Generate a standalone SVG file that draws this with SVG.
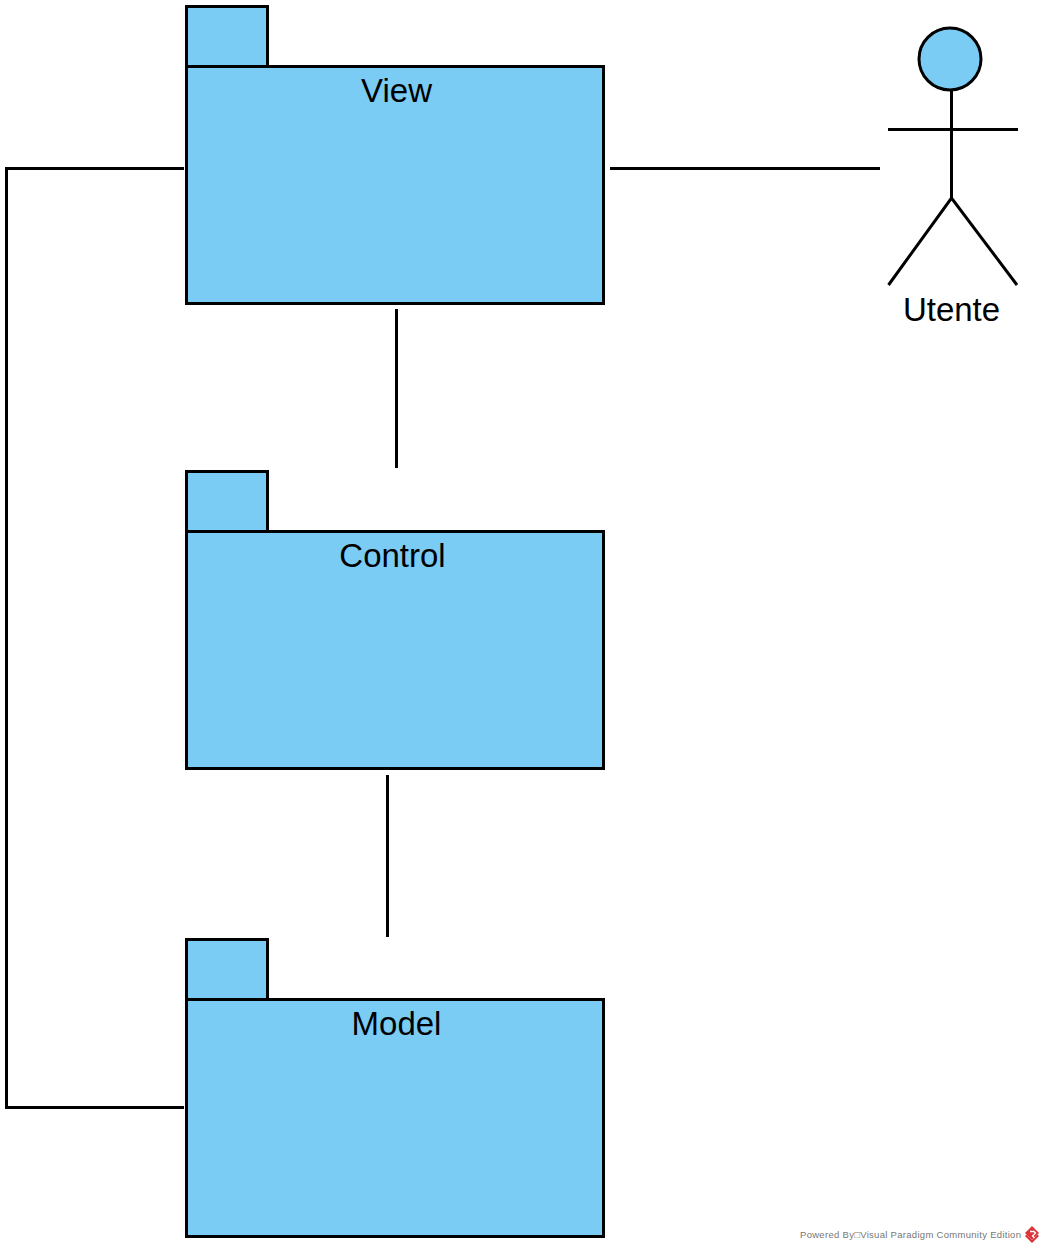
<svg xmlns="http://www.w3.org/2000/svg" width="1044" height="1251" viewBox="0 0 1044 1251">
<style>
.s{fill:#7accf5;stroke:#000;stroke-width:3;stroke-linejoin:miter}
.l{fill:none;stroke:#000;stroke-width:3}
.t{font-family:"Liberation Sans",Arial,sans-serif;font-size:33px;fill:#000;text-anchor:middle}
</style>
<rect width="1044" height="1251" fill="#fff"/>
<g id="connectors">
<path class="l" d="M184 168.500H6.500V1107.500H184"/>
<path class="l" d="M610 168.500H880"/>
<path class="l" d="M396.500 309V468"/>
<path class="l" d="M387.500 775V937"/>
</g>
<g id="view"><rect class="s" x="186.500" y="6.500" width="81" height="60"/><rect class="s" x="186.500" y="66.500" width="417" height="237"/><text class="t" x="396.500" y="102">View</text></g>
<g id="control"><rect class="s" x="186.500" y="471.500" width="81" height="60"/><rect class="s" x="186.500" y="531.500" width="417" height="237"/><text class="t" x="392.500" y="567">Control</text></g>
<g id="model"><rect class="s" x="186.500" y="939.500" width="81" height="60"/><rect class="s" x="186.500" y="999.500" width="417" height="237"/><text class="t" x="396.500" y="1035">Model</text></g>
<g id="utente">
<circle class="s" cx="950" cy="59" r="31"/>
<path class="l" d="M951.500 90V198M888 129.500H1018M888.500 285L951.500 198L1017 285"/>
<text class="t" x="951.500" y="321">Utente</text>
</g>
<g id="watermark">
<text x="800" y="1238" font-family="'Liberation Sans',Arial,sans-serif" font-size="9.500" textLength="221" lengthAdjust="spacing" fill="#777">Powered By□Visual Paradigm Community Edition</text>
<path d="M1032 1226l7 7-7 7-7-7z" fill="#d9343a"/>
<path d="M1025 1236l7 7 7-7-1.500-1.500-5.500 5.500-5.500-5.500z" fill="#d9343a"/>
<path d="M1030 1231.500h4l1.500 1.500-3 3 2 2" fill="none" stroke="#fff" stroke-width="1.300"/>
</g>
</svg>
